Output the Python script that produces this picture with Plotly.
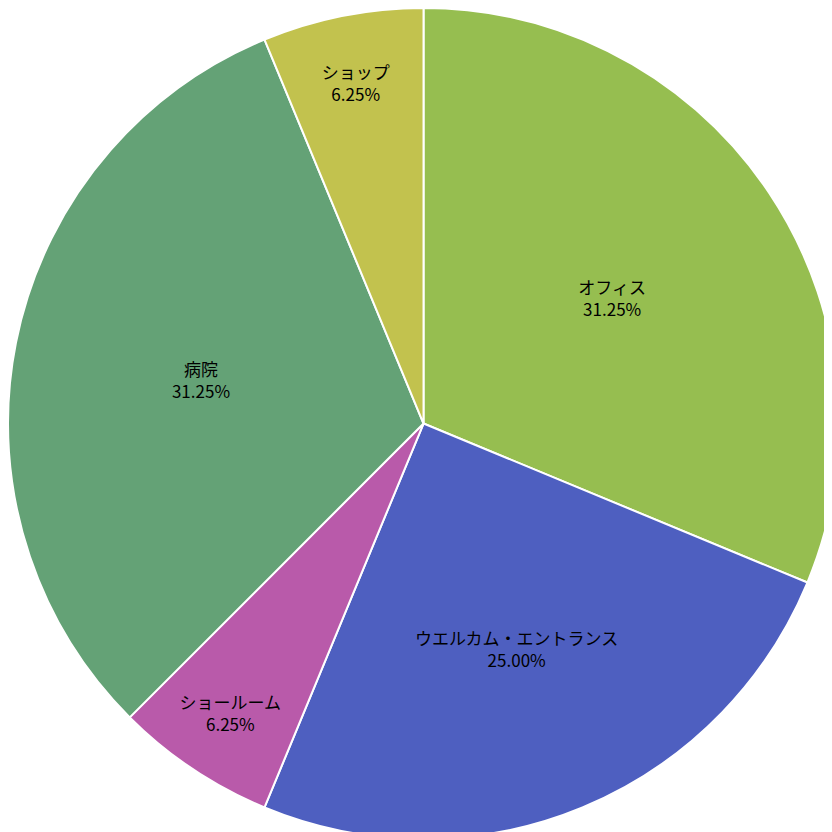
import plotly.graph_objects as go

labels = ["オフィス", "ウエルカム・エントランス", "ショールーム", "病院", "ショップ"]
values = [31.25, 25.00, 6.25, 31.25, 6.25]
colors = ["#96BE50", "#4E5FC0", "#B95AAA", "#64A276", "#C2C24E"]

fig = go.Figure(go.Pie(
    labels=labels, values=values, sort=False, direction="clockwise", rotation=0,
    marker=dict(colors=colors, line=dict(color="white", width=2)),
    texttemplate="%{label}<br>%{percent:.2%}", textposition="inside",
    insidetextorientation="horizontal",
    textfont=dict(family="Noto Sans CJK JP", size=17, color="black"),
    domain=dict(x=[0, 0.98], y=[0.02, 1]),
    showlegend=False,
))
fig.update_layout(width=848, height=848, margin=dict(l=0, r=0, t=0, b=0),
                  paper_bgcolor="white", uniformtext=dict(minsize=17, mode="show"))
fig.write_html("out.html")
